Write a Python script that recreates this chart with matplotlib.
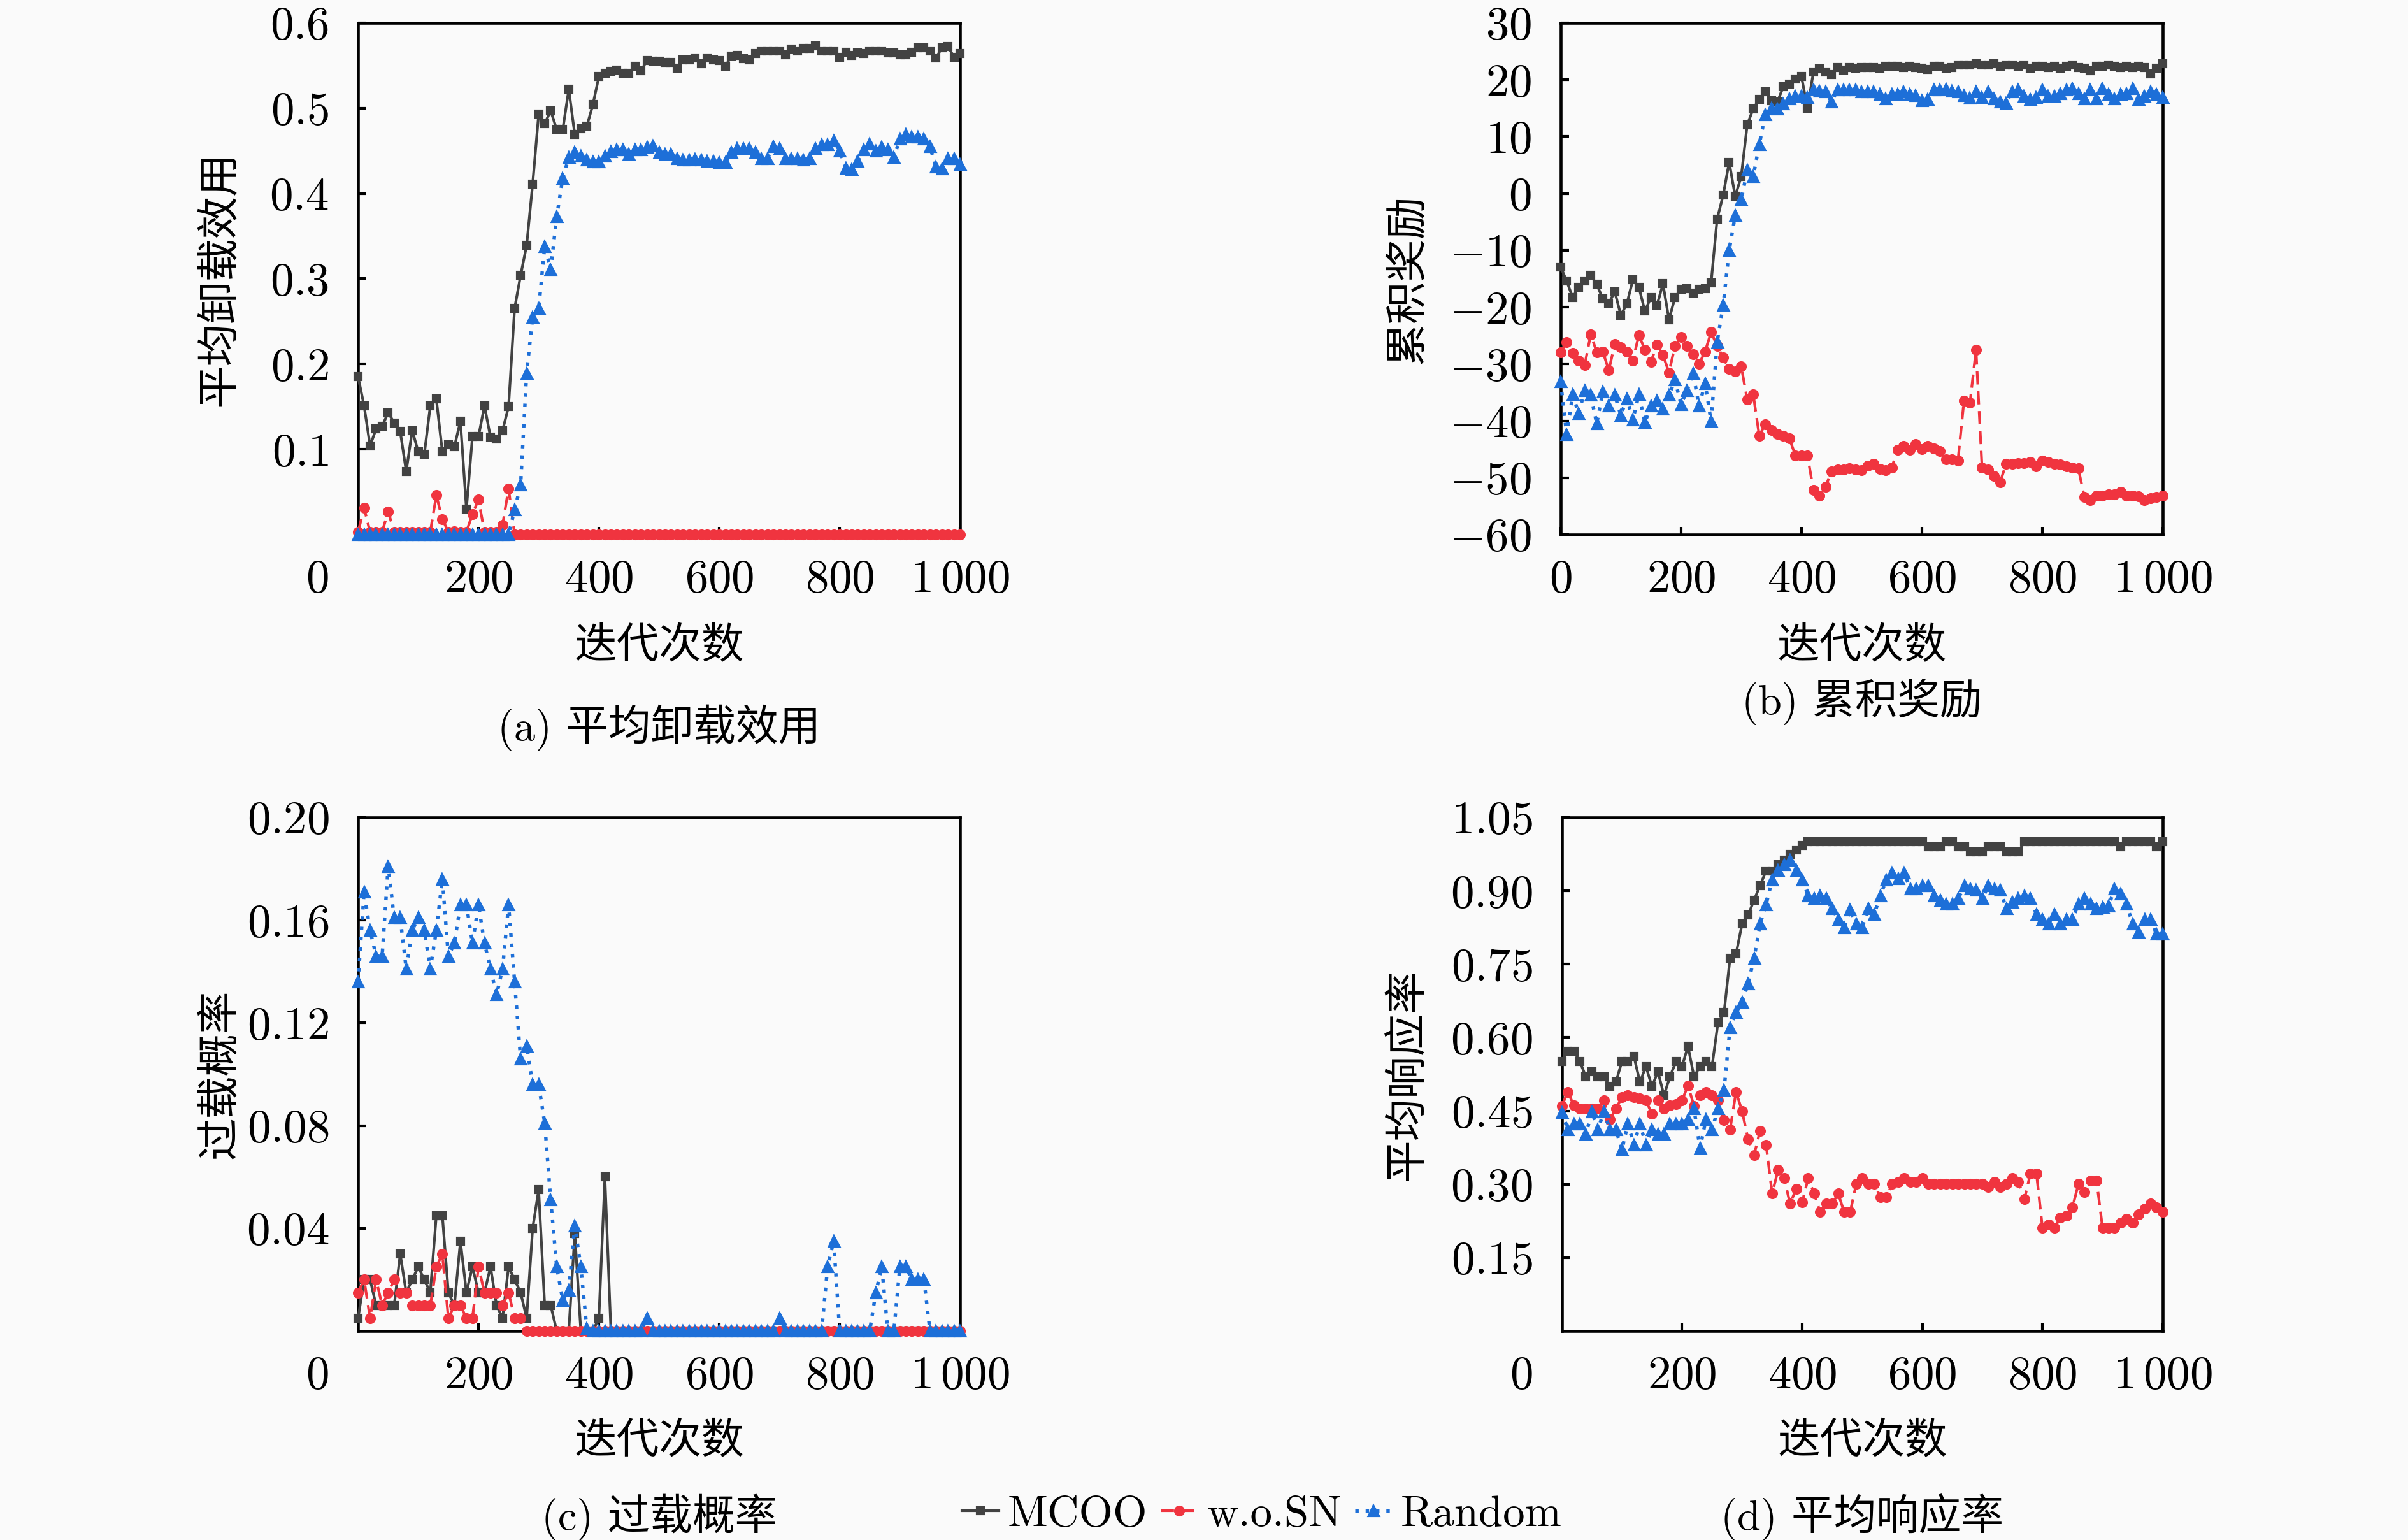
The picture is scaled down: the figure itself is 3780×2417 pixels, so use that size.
import matplotlib
matplotlib.use("Agg")
import matplotlib.pyplot as plt
from matplotlib.lines import Line2D

plt.rcParams['mathtext.fontset'] = 'cm'
plt.rcParams['font.family'] = ['cmr10', 'Noto Sans CJK SC', 'DejaVu Sans']

# iterations (one point every 10)
iters = list(range(0, 1001, 10))

# (a) average offloading utility
mcoo_a = [0.185, 0.151, 0.104, 0.124, 0.127, 0.143, 0.131, 0.121, 0.074, 0.122,
          0.097, 0.094, 0.151, 0.159, 0.097, 0.105, 0.103, 0.133, 0.030, 0.115,
          0.115, 0.151, 0.114, 0.112, 0.122, 0.150, 0.265, 0.304, 0.339, 0.411,
          0.493, 0.482, 0.497, 0.475, 0.475, 0.522, 0.469, 0.476, 0.479, 0.504,
          0.537, 0.541, 0.543, 0.545, 0.541, 0.541, 0.549, 0.544, 0.556, 0.555,
          0.555, 0.554, 0.554, 0.547, 0.557, 0.557, 0.559, 0.552, 0.559, 0.557,
          0.556, 0.549, 0.561, 0.562, 0.558, 0.557, 0.564, 0.567, 0.567, 0.567,
          0.567, 0.563, 0.569, 0.567, 0.570, 0.570, 0.573, 0.567, 0.567, 0.567,
          0.560, 0.566, 0.562, 0.565, 0.564, 0.567, 0.567, 0.567, 0.565, 0.565,
          0.563, 0.563, 0.566, 0.571, 0.571, 0.567, 0.559, 0.571, 0.572, 0.560,
          0.564]
wosn_a = [0.003, 0.031, 0.003, 0.003, 0.003, 0.027, 0.003, 0.003, 0.003, 0.003,
          0.003, 0.003, 0.003, 0.046, 0.018, 0.003, 0.004, 0.003, 0.003, 0.024,
          0.041, 0.003, 0.003, 0.003, 0.011, 0.054, 0.0, 0.0, 0.0, 0.0,
          0.0, 0.0, 0.0, 0.0, 0.0, 0.0, 0.0, 0.0, 0.0, 0.0,
          0.0, 0.0, 0.0, 0.0, 0.0, 0.0, 0.0, 0.0, 0.0, 0.0,
          0.0, 0.0, 0.0, 0.0, 0.0, 0.0, 0.0, 0.0, 0.0, 0.0,
          0.0, 0.0, 0.0, 0.0, 0.0, 0.0, 0.0, 0.0, 0.0, 0.0,
          0.0, 0.0, 0.0, 0.0, 0.0, 0.0, 0.0, 0.0, 0.0, 0.0,
          0.0, 0.0, 0.0, 0.0, 0.0, 0.0, 0.0, 0.0, 0.0, 0.0,
          0.0, 0.0, 0.0, 0.0, 0.0, 0.0, 0.0, 0.0, 0.0, 0.0,
          0.0]
rand_a = [0.0, 0.0, 0.0, 0.0, 0.0, 0.0, 0.0, 0.0, 0.0, 0.0,
          0.0, 0.0, 0.0, 0.0, 0.0, 0.0, 0.0, 0.0, 0.0, 0.0,
          0.0, 0.0, 0.0, 0.0, 0.0, 0.0, 0.029, 0.058, 0.189, 0.255,
          0.265, 0.338, 0.311, 0.373, 0.418, 0.442, 0.448, 0.444, 0.439, 0.437,
          0.437, 0.444, 0.449, 0.451, 0.451, 0.446, 0.451, 0.451, 0.454, 0.456,
          0.448, 0.446, 0.446, 0.441, 0.439, 0.439, 0.440, 0.439, 0.438, 0.438,
          0.436, 0.436, 0.448, 0.453, 0.453, 0.453, 0.448, 0.441, 0.441, 0.455,
          0.453, 0.441, 0.441, 0.441, 0.439, 0.441, 0.453, 0.457, 0.457, 0.462,
          0.450, 0.430, 0.428, 0.438, 0.451, 0.458, 0.450, 0.454, 0.451, 0.442,
          0.464, 0.469, 0.466, 0.466, 0.464, 0.455, 0.431, 0.429, 0.441, 0.441,
          0.434]

# (b) cumulative reward
mcoo_b = [-12.9, -15.4, -18.3, -16.5, -15.4, -14.4, -16.0, -18.5, -19.3, -17.3,
          -21.4, -19.4, -15.2, -16.5, -20.7, -18.3, -19.7, -15.9, -22.2, -18.3,
          -16.8, -16.7, -17.5, -16.8, -16.7, -15.7, -4.5, -0.3, 5.5, -0.5,
          3.0, 12.1, 14.9, 16.6, 17.9, 16.3, 16.1, 18.8, 19.2, 20.1,
          20.6, 15.0, 21.4, 21.9, 21.4, 20.9, 22.1, 21.7, 22.2, 22.0,
          22.2, 22.2, 22.2, 22.0, 22.4, 22.4, 22.4, 22.2, 22.4, 22.2,
          22.0, 21.8, 22.4, 22.4, 22.0, 22.2, 22.6, 22.6, 22.6, 22.8,
          22.6, 22.6, 22.8, 22.4, 22.6, 22.6, 22.4, 22.6, 22.0, 22.4,
          22.4, 22.2, 22.4, 22.0, 22.4, 22.6, 22.2, 22.0, 21.6, 22.4,
          22.4, 22.6, 22.4, 22.2, 22.4, 22.2, 22.4, 22.2, 21.0, 22.0,
          22.8]
wosn_b = [-27.9, -26.2, -28.1, -29.4, -30.2, -24.8, -27.9, -27.8, -31.1, -26.5,
          -27.1, -27.8, -29.4, -24.9, -27.5, -29.6, -26.6, -28.4, -31.5, -26.8,
          -25.3, -26.8, -28.3, -30.0, -27.8, -24.4, -26.8, -28.9, -30.9, -31.3,
          -30.4, -36.3, -35.4, -42.6, -40.6, -41.6, -42.3, -42.6, -43.1, -46.1,
          -46.1, -46.1, -52.2, -53.2, -51.6, -48.9, -48.6, -48.6, -48.4, -48.6,
          -48.7, -47.9, -47.6, -48.5, -48.7, -48.2, -45.1, -44.4, -45.1, -44.1,
          -45.0, -44.4, -44.9, -45.3, -46.8, -46.8, -47.0, -36.5, -36.8, -27.5,
          -48.2, -48.6, -49.7, -50.8, -47.6, -47.6, -47.4, -47.4, -47.2, -48.0,
          -47.0, -47.2, -47.6, -47.7, -48.0, -48.2, -48.4, -53.4, -54.0, -53.2,
          -53.2, -53.0, -52.9, -52.5, -53.2, -53.2, -53.3, -54.0, -53.6, -53.4,
          -53.2]
rand_b = [-33.1, -42.4, -35.4, -38.7, -34.7, -35.5, -40.5, -34.9, -37.4, -35.5,
          -39.0, -36.1, -39.8, -35.4, -40.3, -37.4, -36.5, -37.9, -35.5, -32.8,
          -37.1, -34.7, -31.6, -37.4, -33.4, -40.1, -26.2, -19.7, -10.0, -3.9,
          -1.1, 4.1, 3.0, 8.6, 13.9, 15.0, 14.9, 15.8, 16.7, 17.1,
          17.1, 16.9, 18.2, 18.0, 17.9, 16.1, 18.2, 18.2, 18.2, 18.2,
          17.9, 17.9, 17.9, 17.4, 16.7, 17.4, 17.4, 17.9, 17.4, 17.2,
          16.3, 16.5, 18.2, 18.2, 18.3, 18.0, 17.9, 17.2, 16.8, 17.9,
          16.9, 17.9, 16.7, 16.1, 15.9, 17.9, 18.2, 17.1, 16.5, 16.9,
          18.2, 17.1, 17.1, 17.6, 18.2, 18.5, 17.6, 16.7, 18.2, 16.7,
          18.5, 17.4, 16.7, 17.4, 17.6, 18.4, 16.5, 17.1, 17.9, 17.4,
          16.9]

# (c) overload probability
mcoo_c = [0.005, 0.020, 0.020, 0.010, 0.010, 0.010, 0.010, 0.030, 0.015, 0.020,
          0.025, 0.020, 0.015, 0.045, 0.045, 0.015, 0.010, 0.035, 0.015, 0.025,
          0.015, 0.015, 0.025, 0.010, 0.005, 0.025, 0.020, 0.015, 0.005, 0.040,
          0.055, 0.010, 0.010, 0.0, 0.0, 0.0, 0.038, 0.0, 0.0, 0.0,
          0.005, 0.060, 0.0, 0.0, 0.0, 0.0, 0.0, 0.0, 0.0, 0.0,
          0.0, 0.0, 0.0, 0.0, 0.0, 0.0, 0.0, 0.0, 0.0, 0.0,
          0.0, 0.0, 0.0, 0.0, 0.0, 0.0, 0.0, 0.0, 0.0, 0.0,
          0.0, 0.0, 0.0, 0.0, 0.0, 0.0, 0.0, 0.0, 0.0, 0.0,
          0.0, 0.0, 0.0, 0.0, 0.0, 0.0, 0.0, 0.0, 0.0, 0.0,
          0.0, 0.0, 0.0, 0.0, 0.0, 0.0, 0.0, 0.0, 0.0, 0.0,
          0.0]
wosn_c = [0.015, 0.020, 0.005, 0.020, 0.010, 0.015, 0.020, 0.015, 0.015, 0.010,
          0.010, 0.010, 0.010, 0.025, 0.030, 0.005, 0.010, 0.010, 0.005, 0.005,
          0.025, 0.015, 0.015, 0.015, 0.010, 0.015, 0.005, 0.005, 0.0, 0.0,
          0.0, 0.0, 0.0, 0.0, 0.0, 0.0, 0.0, 0.0, 0.0, 0.0,
          0.0, 0.0, 0.0, 0.0, 0.0, 0.0, 0.0, 0.0, 0.0, 0.0,
          0.0, 0.0, 0.0, 0.0, 0.0, 0.0, 0.0, 0.0, 0.0, 0.0,
          0.0, 0.0, 0.0, 0.0, 0.0, 0.0, 0.0, 0.0, 0.0, 0.0,
          0.0, 0.0, 0.0, 0.0, 0.0, 0.0, 0.0, 0.0, 0.0, 0.0,
          0.0, 0.0, 0.0, 0.0, 0.0, 0.0, 0.0, 0.0, 0.0, 0.0,
          0.0, 0.0, 0.0, 0.0, 0.0, 0.0, 0.0, 0.0, 0.0, 0.0,
          0.0]
rand_c = [0.136, 0.171, 0.156, 0.146, 0.146, 0.181, 0.161, 0.161, 0.141, 0.156,
          0.161, 0.156, 0.141, 0.156, 0.176, 0.146, 0.151, 0.166, 0.166, 0.151,
          0.166, 0.151, 0.141, 0.131, 0.141, 0.166, 0.136, 0.106, 0.111, 0.096,
          0.096, 0.081, 0.051, 0.025, 0.012, 0.016, 0.041, 0.025, 0.001, 0.0,
          0.0, 0.0, 0.0, 0.0, 0.0, 0.0, 0.0, 0.0, 0.005, 0.0,
          0.0, 0.0, 0.0, 0.0, 0.0, 0.0, 0.0, 0.0, 0.0, 0.0,
          0.0, 0.0, 0.0, 0.0, 0.0, 0.0, 0.0, 0.0, 0.0, 0.0,
          0.005, 0.0, 0.0, 0.0, 0.0, 0.0, 0.0, 0.0, 0.025, 0.035,
          0.0, 0.0, 0.0, 0.0, 0.0, 0.0, 0.015, 0.025, 0.0, 0.0,
          0.025, 0.025, 0.020, 0.020, 0.020, 0.0, 0.0, 0.0, 0.0, 0.0,
          0.0]

# (d) average response rate
mcoo_d = [0.551, 0.572, 0.572, 0.551, 0.520, 0.530, 0.520, 0.520, 0.500, 0.509,
          0.551, 0.551, 0.561, 0.509, 0.541, 0.500, 0.530, 0.482, 0.520, 0.551,
          0.541, 0.582, 0.520, 0.541, 0.551, 0.541, 0.631, 0.651, 0.762, 0.771,
          0.832, 0.850, 0.881, 0.911, 0.941, 0.941, 0.953, 0.963, 0.974, 0.984,
          0.992, 1.0, 1.0, 1.0, 1.0, 1.0, 1.0, 1.0, 1.0, 1.0,
          1.0, 1.0, 1.0, 1.0, 1.0, 1.0, 1.0, 1.0, 1.0, 1.0,
          1.0, 0.99, 0.99, 0.99, 1.0, 1.0, 0.99, 0.99, 0.98, 0.98,
          0.98, 0.99, 0.99, 0.99, 0.98, 0.98, 0.98, 1.0, 1.0, 1.0,
          1.0, 1.0, 1.0, 1.0, 1.0, 1.0, 1.0, 1.0, 1.0, 1.0,
          1.0, 1.0, 1.0, 0.99, 1.0, 1.0, 1.0, 1.0, 1.0, 0.99,
          1.0]
wosn_d = [0.460, 0.489, 0.461, 0.454, 0.454, 0.454, 0.454, 0.471, 0.433, 0.454,
          0.478, 0.482, 0.478, 0.475, 0.471, 0.444, 0.471, 0.454, 0.461, 0.464,
          0.471, 0.502, 0.460, 0.482, 0.489, 0.482, 0.471, 0.431, 0.412, 0.489,
          0.450, 0.392, 0.360, 0.409, 0.381, 0.281, 0.329, 0.312, 0.260, 0.291,
          0.263, 0.312, 0.281, 0.243, 0.260, 0.260, 0.281, 0.243, 0.243, 0.301,
          0.312, 0.301, 0.301, 0.274, 0.274, 0.301, 0.305, 0.312, 0.305, 0.305,
          0.312, 0.301, 0.301, 0.301, 0.301, 0.301, 0.301, 0.301, 0.301, 0.301,
          0.301, 0.295, 0.305, 0.295, 0.301, 0.312, 0.305, 0.270, 0.322, 0.322,
          0.211, 0.218, 0.211, 0.232, 0.236, 0.253, 0.301, 0.284, 0.308, 0.308,
          0.211, 0.211, 0.211, 0.222, 0.229, 0.222, 0.239, 0.250, 0.260, 0.253,
          0.243]
rand_d = [0.447, 0.412, 0.423, 0.423, 0.402, 0.448, 0.412, 0.448, 0.412, 0.412,
          0.371, 0.423, 0.381, 0.423, 0.381, 0.412, 0.402, 0.402, 0.423, 0.423,
          0.423, 0.433, 0.454, 0.374, 0.433, 0.412, 0.454, 0.493, 0.620, 0.651,
          0.672, 0.710, 0.762, 0.832, 0.872, 0.922, 0.942, 0.953, 0.963, 0.942,
          0.922, 0.890, 0.884, 0.890, 0.884, 0.863, 0.842, 0.825, 0.861, 0.832,
          0.825, 0.863, 0.852, 0.890, 0.922, 0.936, 0.925, 0.936, 0.904, 0.904,
          0.911, 0.911, 0.890, 0.880, 0.873, 0.873, 0.884, 0.911, 0.904, 0.901,
          0.884, 0.911, 0.904, 0.901, 0.863, 0.877, 0.884, 0.890, 0.884, 0.852,
          0.842, 0.833, 0.852, 0.833, 0.842, 0.842, 0.873, 0.884, 0.873, 0.863,
          0.866, 0.869, 0.904, 0.894, 0.873, 0.832, 0.815, 0.842, 0.842, 0.811,
          0.811]

names = ['MCOO', 'w.o.SN', 'Random']
xticks_all = [0, 200, 400, 600, 800, 1000]
xlabels_all = [r'$0$', r'$200$', r'$400$', r'$600$', r'$800$', r'$1\,000$']

C_MCOO = '#424242'
C_WOSN = '#f0343f'
C_RAND = '#1d6fd8'
BG = '#fafafa'
CJK = ['Noto Sans CJK SC', 'DejaVu Sans']

style_mcoo = dict(color=C_MCOO, lw=1.0, marker='s', ms=2.6, clip_on=False, zorder=3)
style_wosn = dict(color=C_WOSN, lw=1.0, ls=(0, (5, 2.5)), marker='o', ms=3.1, clip_on=False, zorder=4)
style_rand = dict(color=C_RAND, lw=1.3, ls=(0, (1, 2)), marker='^', ms=3.6, clip_on=False, zorder=5)

fig = plt.figure(figsize=(12.6, 8.0567), dpi=300, facecolor=BG)


def panel(rect, m, w, r, ylim, yticks, ylabels, ylab, cap, cap_y, xlab_y, ylab_x, zero_corner):
    ax = fig.add_axes(rect, facecolor=BG)
    ax.plot(iters, m, **style_mcoo)
    ax.plot(iters, w, **style_wosn)
    ax.plot(iters, r, **style_rand)
    ax.set_xlim(0, 1000)
    ax.set_ylim(*ylim)
    if zero_corner:
        ax.set_xticks(xticks_all[1:], xlabels_all[1:])
        ax.annotate(r'$0$', xy=(-0.068, 0), xycoords='axes fraction', xytext=(0, -9.5),
                    textcoords='offset points', ha='center', va='top', fontsize=17.5)
    else:
        ax.set_xticks(xticks_all, xlabels_all)
    ax.set_yticks(yticks, ylabels)
    ax.tick_params(direction='in', length=3, width=1.0, labelsize=17.5, top=False, right=False)
    ax.tick_params(axis='x', pad=9.5)
    ax.tick_params(axis='y', pad=11)
    for s in ax.spines.values():
        s.set_linewidth(1.1)
    ax.text(0.5, xlab_y, '迭代次数', transform=ax.transAxes, ha='center', va='center',
            fontsize=16, family=CJK)
    ax.text(ylab_x, 0.5, ylab, transform=ax.transAxes, ha='center', va='center',
            rotation=90, fontsize=16, family=CJK)
    ax.text(0.5, cap_y, cap, transform=ax.transAxes, ha='center', va='center',
            fontsize=16, family=['cmr10', 'Noto Sans CJK SC'])
    return ax


panel([0.1487, 0.6529, 0.2500, 0.3322], mcoo_a, wosn_a, rand_a, (0, 0.6),
      [0.1, 0.2, 0.3, 0.4, 0.5, 0.6],
      [r'$0.1$', r'$0.2$', r'$0.3$', r'$0.4$', r'$0.5$', r'$0.6$'],
      '平均卸载效用', '(a) 平均卸载效用', -0.378, -0.2180, -0.2296, True)

panel([0.6481, 0.6529, 0.2500, 0.3322], mcoo_b, wosn_b, rand_b, (-60, 30),
      [-60, -50, -40, -30, -20, -10, 0, 10, 20, 30],
      [r'$-60$', r'$-50$', r'$-40$', r'$-30$', r'$-20$', r'$-10$', r'$0$', r'$10$', r'$20$', r'$30$'],
      '累积奖励', '(b) 累积奖励', -0.327, -0.2180, -0.254, False)

panel([0.1487, 0.1357, 0.2500, 0.3335], mcoo_c, wosn_c, rand_c, (0, 0.20),
      [0.04, 0.08, 0.12, 0.16, 0.20],
      [r'$0.04$', r'$0.08$', r'$0.12$', r'$0.16$', r'$0.20$'],
      '过载概率', '(c) 过载概率', -0.362, -0.215, -0.2296, True)

panel([0.6486, 0.1357, 0.2495, 0.3335], mcoo_d, wosn_d, rand_d, (0, 1.05),
      [0.15, 0.30, 0.45, 0.60, 0.75, 0.90, 1.05],
      [r'$0.15$', r'$0.30$', r'$0.45$', r'$0.60$', r'$0.75$', r'$0.90$', r'$1.05$'],
      '平均响应率', '(d) 平均响应率', -0.362, -0.215, -0.257, True)

handles = [Line2D([], [], **{k: v for k, v in style_mcoo.items() if k not in ('clip_on', 'zorder')}),
           Line2D([], [], **{k: v for k, v in style_wosn.items() if k not in ('clip_on', 'zorder')}),
           Line2D([], [], **{k: v for k, v in style_rand.items() if k not in ('clip_on', 'zorder')})]
fig.legend(handles, names, loc='center', bbox_to_anchor=(0.524, 0.0165), ncol=3, frameon=False,
           handlelength=0.85, handletextpad=0.2, columnspacing=0.3, numpoints=1,
           borderpad=0.1, prop={'family': 'cmr10', 'size': 16.5})

fig.savefig('out.png', dpi=300, facecolor=BG)
